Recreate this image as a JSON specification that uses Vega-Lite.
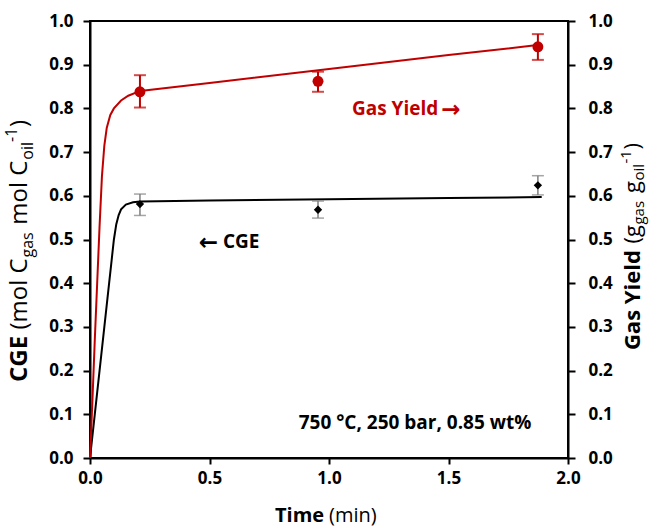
{
  "$schema": "https://vega.github.io/schema/vega-lite/v6.json",
  "width": 478,
  "height": 437,
  "autosize": {"type": "none"},
  "padding": {"left": 90, "top": 21, "right": 81, "bottom": 73},
  "background": "white",
  "config": {
    "font": "Open Sans",
    "view": {"stroke": "black", "strokeWidth": 2},
    "axis": {
      "domainColor": "black", "domainWidth": 2,
      "tickColor": "black", "tickWidth": 2, "tickSize": 7,
      "labelFont": "Open Sans", "labelFontWeight": "bold", "labelFontSize": 17, "labelColor": "black",
      "labelPadding": 10, "grid": false
    },
    "axisX": {"labelFlush": false, "labelPadding": 6, "tickSize": 6},
    "text": {"font": "Open Sans", "color": "black"}
  },
  "datasets": {
    "one": [{}],
    "cgeCurve": [
      {"t": 0, "cge": 0}, {"t": 0.02, "cge": 0.10}, {"t": 0.04, "cge": 0.20}, {"t": 0.06, "cge": 0.30},
      {"t": 0.08, "cge": 0.40}, {"t": 0.09, "cge": 0.45}, {"t": 0.10, "cge": 0.50}, {"t": 0.11, "cge": 0.535},
      {"t": 0.12, "cge": 0.556}, {"t": 0.13, "cge": 0.569}, {"t": 0.15, "cge": 0.580}, {"t": 0.18, "cge": 0.585},
      {"t": 0.21, "cge": 0.587}, {"t": 0.5, "cge": 0.589}, {"t": 1.0, "cge": 0.592}, {"t": 1.5, "cge": 0.595},
      {"t": 1.89, "cge": 0.597}
    ],
    "gasCurve": [
      {"t": 0, "gas": 0}, {"t": 0.01, "gas": 0.13}, {"t": 0.02, "gas": 0.27}, {"t": 0.03, "gas": 0.40},
      {"t": 0.04, "gas": 0.53}, {"t": 0.05, "gas": 0.645}, {"t": 0.06, "gas": 0.715}, {"t": 0.07, "gas": 0.755},
      {"t": 0.085, "gas": 0.785}, {"t": 0.10, "gas": 0.80}, {"t": 0.13, "gas": 0.818}, {"t": 0.16, "gas": 0.829},
      {"t": 0.21, "gas": 0.84}, {"t": 0.5, "gas": 0.858}, {"t": 1.0, "gas": 0.890}, {"t": 1.5, "gas": 0.922},
      {"t": 1.89, "gas": 0.946}
    ],
    "cgePts": [
      {"t": 0.209, "cge": 0.581, "lo": 0.555, "hi": 0.604},
      {"t": 0.954, "cge": 0.568, "lo": 0.549, "hi": 0.588},
      {"t": 1.874, "cge": 0.624, "lo": 0.602, "hi": 0.646}
    ],
    "gasPts": [
      {"t": 0.209, "gas": 0.838, "lo": 0.802, "hi": 0.876},
      {"t": 0.954, "gas": 0.862, "lo": 0.838, "hi": 0.884},
      {"t": 1.874, "gas": 0.941, "lo": 0.911, "hi": 0.970}
    ]
  },
  "layer": [
    {
      "layer": [
        {
          "data": {"name": "cgeCurve"},
          "mark": {"type": "line", "color": "black", "strokeWidth": 2, "clip": false},
          "encoding": {
            "x": {"field": "t", "type": "quantitative", "scale": {"domain": [0, 2], "nice": false},
                  "axis": {"values": [0, 0.5, 1, 1.5, 2], "format": ".1f", "title": null}},
            "y": {"field": "cge", "type": "quantitative", "scale": {"domain": [0, 1], "nice": false},
                  "axis": {"orient": "left", "labelPadding": 10, "values": [0, 0.1, 0.2, 0.3, 0.4, 0.5, 0.6, 0.7, 0.8, 0.9, 1.0], "format": ".1f", "title": null}}
          }
        },
        {
          "data": {"name": "cgePts"},
          "mark": {"type": "errorbar", "color": "#7f7f7f", "thickness": 1.5, "ticks": {"size": 12, "thickness": 1.5}},
          "encoding": {
            "x": {"field": "t", "type": "quantitative", "title": null},
            "y": {"field": "lo", "type": "quantitative", "title": null},
            "y2": {"field": "hi"}
          }
        },
        {
          "data": {"name": "cgePts"},
          "mark": {"type": "point", "shape": "diamond", "filled": true, "color": "black", "size": 70, "opacity": 1},
          "encoding": {
            "x": {"field": "t", "type": "quantitative", "title": null},
            "y": {"field": "cge", "type": "quantitative", "title": null}
          }
        },
        {
          "data": {"name": "one"},
          "mark": {"type": "text", "text": "←", "font": "DejaVu Sans", "fontWeight": "bold", "fontSize": 23, "align": "left", "baseline": "middle", "dy": 1},
          "encoding": {"x": {"datum": 0.455}, "y": {"datum": 0.494}}
        },
        {
          "data": {"name": "one"},
          "mark": {"type": "text", "text": "CGE", "fontWeight": "bold", "fontSize": 19, "align": "left", "baseline": "middle"},
          "encoding": {"x": {"datum": 0.556}, "y": {"datum": 0.494}}
        },
        {
          "data": {"name": "one"},
          "mark": {"type": "text", "text": "750 °C, 250 bar, 0.85 wt%", "fontWeight": "bold", "fontSize": 19, "align": "center", "baseline": "middle"},
          "encoding": {"x": {"datum": 1.36}, "y": {"datum": 0.08}}
        },
        {
          "data": {"name": "one"},
          "mark": {"type": "text", "text": "Time", "fontWeight": "bold", "fontSize": 20, "align": "left", "baseline": "alphabetic"},
          "encoding": {"x": {"datum": 0.774}, "y": {"datum": -0.1465}}
        },
        {
          "data": {"name": "one"},
          "mark": {"type": "text", "text": "(min)", "fontSize": 20, "align": "left", "baseline": "alphabetic", "dx": 54},
          "encoding": {"x": {"datum": 0.774}, "y": {"datum": -0.1465}}
        },
        {
          "data": {"name": "one"},
          "mark": {"type": "text", "text": "CGE", "fontWeight": "bold", "fontSize": 24, "angle": 270, "align": "left", "baseline": "alphabetic"},
          "encoding": {"x": {"datum": -0.264}, "y": {"datum": 0.174}}
        },
        {
          "data": {"name": "one"},
          "mark": {"type": "text", "text": "(mol C", "fontSize": 24, "angle": 270, "align": "left", "baseline": "alphabetic", "dx": 52.4},
          "encoding": {"x": {"datum": -0.264}, "y": {"datum": 0.174}}
        },
        {
          "data": {"name": "one"},
          "mark": {"type": "text", "text": "gas", "fontSize": 16, "angle": 270, "align": "left", "baseline": "alphabetic", "dx": 124.5, "dy": 6},
          "encoding": {"x": {"datum": -0.264}, "y": {"datum": 0.174}}
        },
        {
          "data": {"name": "one"},
          "mark": {"type": "text", "text": "mol C", "fontSize": 24, "angle": 270, "align": "left", "baseline": "alphabetic", "dx": 157.3},
          "encoding": {"x": {"datum": -0.264}, "y": {"datum": 0.174}}
        },
        {
          "data": {"name": "one"},
          "mark": {"type": "text", "text": "oil", "fontSize": 16, "angle": 270, "align": "left", "baseline": "alphabetic", "dx": 222.3, "dy": 6},
          "encoding": {"x": {"datum": -0.264}, "y": {"datum": 0.174}}
        },
        {
          "data": {"name": "one"},
          "mark": {"type": "text", "text": "-1", "fontSize": 16, "angle": 270, "align": "left", "baseline": "alphabetic", "dx": 240, "dy": -10},
          "encoding": {"x": {"datum": -0.264}, "y": {"datum": 0.174}}
        },
        {
          "data": {"name": "one"},
          "mark": {"type": "text", "text": ")", "fontSize": 24, "angle": 270, "align": "left", "baseline": "alphabetic", "dx": 255},
          "encoding": {"x": {"datum": -0.264}, "y": {"datum": 0.174}}
        }
      ]
    },
    {
      "layer": [
        {
          "data": {"name": "gasCurve"},
          "mark": {"type": "line", "color": "#c00000", "strokeWidth": 2, "clip": false},
          "encoding": {
            "x": {"field": "t", "type": "quantitative", "title": null},
            "y": {"field": "gas", "type": "quantitative", "scale": {"domain": [0, 1], "nice": false},
                  "axis": {"orient": "right", "labelPadding": 13, "values": [0, 0.1, 0.2, 0.3, 0.4, 0.5, 0.6, 0.7, 0.8, 0.9, 1.0], "format": ".1f", "title": null}}
          }
        },
        {
          "data": {"name": "gasPts"},
          "mark": {"type": "errorbar", "color": "#c00000", "thickness": 2, "ticks": {"size": 12, "thickness": 2}},
          "encoding": {
            "x": {"field": "t", "type": "quantitative", "title": null},
            "y": {"field": "lo", "type": "quantitative", "title": null},
            "y2": {"field": "hi"}
          }
        },
        {
          "data": {"name": "gasPts"},
          "mark": {"type": "point", "shape": "circle", "filled": true, "color": "#c00000", "size": 120, "opacity": 1},
          "encoding": {
            "x": {"field": "t", "type": "quantitative", "title": null},
            "y": {"field": "gas", "type": "quantitative", "title": null}
          }
        },
        {
          "data": {"name": "one"},
          "mark": {"type": "text", "text": "Gas Yield", "fontWeight": "bold", "fontSize": 19, "color": "#c00000", "align": "left", "baseline": "middle"},
          "encoding": {"x": {"datum": 1.096}, "y": {"datum": 0.799}}
        },
        {
          "data": {"name": "one"},
          "mark": {"type": "text", "text": "→", "font": "DejaVu Sans", "fontWeight": "bold", "fontSize": 23, "color": "#c00000", "align": "left", "baseline": "middle", "dy": 1},
          "encoding": {"x": {"datum": 1.47}, "y": {"datum": 0.799}}
        },
        {
          "data": {"name": "one"},
          "mark": {"type": "text", "text": "Gas Yield", "fontWeight": "bold", "fontSize": 22, "angle": 270, "align": "left", "baseline": "alphabetic"},
          "encoding": {"x": {"datum": 2.301}, "y": {"datum": 0.247}}
        },
        {
          "data": {"name": "one"},
          "mark": {"type": "text", "text": "(g", "fontSize": 22, "angle": 270, "align": "left", "baseline": "alphabetic", "dx": 106.6},
          "encoding": {"x": {"datum": 2.301}, "y": {"datum": 0.247}}
        },
        {
          "data": {"name": "one"},
          "mark": {"type": "text", "text": "gas", "fontSize": 15, "angle": 270, "align": "left", "baseline": "alphabetic", "dx": 125.5, "dy": 4},
          "encoding": {"x": {"datum": 2.301}, "y": {"datum": 0.247}}
        },
        {
          "data": {"name": "one"},
          "mark": {"type": "text", "text": "g", "fontSize": 22, "angle": 270, "align": "left", "baseline": "alphabetic", "dx": 157},
          "encoding": {"x": {"datum": 2.301}, "y": {"datum": 0.247}}
        },
        {
          "data": {"name": "one"},
          "mark": {"type": "text", "text": "oil", "fontSize": 15, "angle": 270, "align": "left", "baseline": "alphabetic", "dx": 169.5, "dy": 4},
          "encoding": {"x": {"datum": 2.301}, "y": {"datum": 0.247}}
        },
        {
          "data": {"name": "one"},
          "mark": {"type": "text", "text": "-1", "fontSize": 15, "angle": 270, "align": "left", "baseline": "alphabetic", "dx": 186.5, "dy": -9},
          "encoding": {"x": {"datum": 2.301}, "y": {"datum": 0.247}}
        },
        {
          "data": {"name": "one"},
          "mark": {"type": "text", "text": ")", "fontSize": 22, "angle": 270, "align": "left", "baseline": "alphabetic", "dx": 200.5},
          "encoding": {"x": {"datum": 2.301}, "y": {"datum": 0.247}}
        }
      ]
    }
  ],
  "resolve": {"scale": {"y": "independent"}}
}
